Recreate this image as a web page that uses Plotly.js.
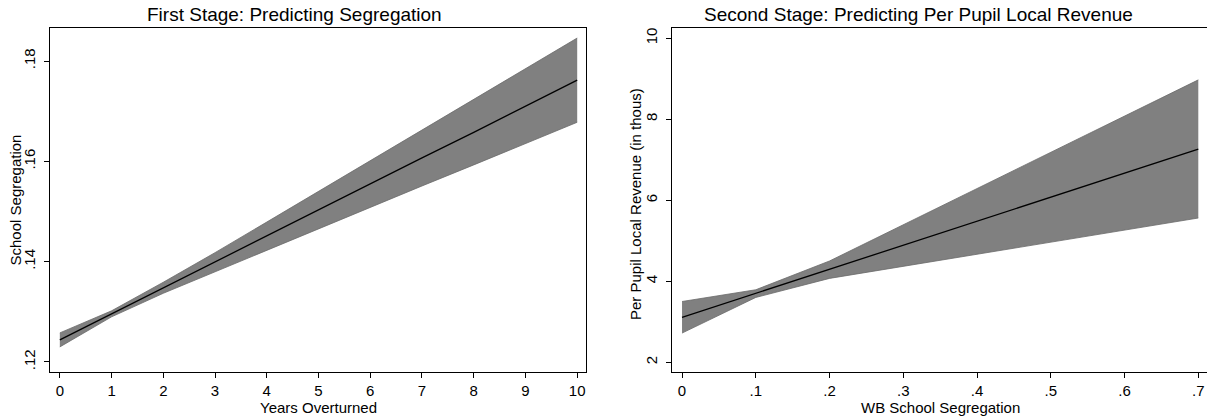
<!DOCTYPE html>
<html>
<head>
<meta charset="utf-8">
<script src="https://cdn.plot.ly/plotly-3.0.1.min.js"></script>
<style>
html,body{margin:0;padding:0;background:#fff;overflow:hidden;}
#chart{width:1207px;height:417px;}
</style>
</head>
<body>
<div id="chart"></div>
<script>
// ---- Left panel: First stage ----
const yearsOverturned = [0, 1, 2, 3, 4, 5, 6, 7, 8, 9, 10];
const segFit   = [0.1244, 0.1296, 0.1348, 0.1399, 0.1451, 0.1503, 0.1555, 0.1607, 0.1658, 0.1710, 0.1762];
const segUpper = [0.1258, 0.1302, 0.1359, 0.1418, 0.1479, 0.1540, 0.1602, 0.1663, 0.1723, 0.1785, 0.1846];
const segLower = [0.1230, 0.1290, 0.1337, 0.1380, 0.1423, 0.1466, 0.1508, 0.1551, 0.1593, 0.1635, 0.1678];
const leftXTicks = [0, 1, 2, 3, 4, 5, 6, 7, 8, 9, 10];
const leftYTicks = [0.12, 0.14, 0.16, 0.18];
const leftYTickText = [".12", ".14", ".16", ".18"];

// ---- Right panel: Second stage ----
const wbSeg     = [0, 0.1, 0.2, 0.3, 0.4, 0.5, 0.6, 0.7];
const revFit    = [3.11, 3.70, 4.30, 4.89, 5.48, 6.08, 6.67, 7.26];
const revUpper  = [3.50, 3.79, 4.50, 5.39, 6.28, 7.18, 8.07, 8.97];
const revLower  = [2.72, 3.60, 4.07, 4.37, 4.67, 4.96, 5.26, 5.56];
const rightXTicks = [0, 0.1, 0.2, 0.3, 0.4, 0.5, 0.6, 0.7];
const rightXTickText = ["0", ".1", ".2", ".3", ".4", ".5", ".6", ".7"];
const rightYTicks = [2, 4, 6, 8, 10];
const rightYTickText = ["2", "4", "6", "8", "10"];

const titles = ["First Stage: Predicting Segregation", "Second Stage: Predicting Per Pupil Local Revenue"];
const xTitles = ["Years Overturned", "WB School Segregation"];
const yTitles = ["School Segregation", "Per Pupil Local Revenue (in thous)"];

(function () {
const W = 1207, H = 417;
const FONT = "Liberation Sans, Arial, Helvetica, sans-serif";
const band = "rgb(128,128,128)";
const bandEdge = "rgb(105,105,105)";

function bandTraces(x, lo, hi, fit, xa, ya) {
  return [
    {x: x, y: lo, xaxis: xa, yaxis: ya, type: "scatter", mode: "lines",
     line: {color: bandEdge, width: 0.8}, hoverinfo: "skip", showlegend: false},
    {x: x, y: hi, xaxis: xa, yaxis: ya, type: "scatter", mode: "lines", fill: "tonexty",
     fillcolor: band, line: {color: bandEdge, width: 0.8}, hoverinfo: "skip", showlegend: false},
    {x: x, y: fit, xaxis: xa, yaxis: ya, type: "scatter", mode: "lines",
     line: {color: "black", width: 1.3}, showlegend: false}
  ];
}

const data = [].concat(
  bandTraces(yearsOverturned, segLower, segUpper, segFit, "x", "y"),
  bandTraces(wbSeg, revLower, revUpper, revFit, "x2", "y2")
);

const plotTop = 28, plotBottom = 372;
const ydom = [1 - plotBottom / H, 1 - plotTop / H];
const tf = {family: FONT, size: 15, color: "black"};

const axBase = {
  showgrid: false, zeroline: false, showline: true, linecolor: "black", linewidth: 1.2,
  ticks: "outside", ticklen: 5, tickwidth: 1, tickcolor: "black",
  tickfont: tf, automargin: false
};

function ann(text, xpx, ypx, size, angle) {
  return {text: text, xref: "paper", yref: "paper", x: xpx / W, y: 1 - ypx / H,
    xanchor: "center", yanchor: "middle", showarrow: false, textangle: angle || 0,
    font: {family: FONT, size: size, color: "black"}};
}

const layout = {
  width: W, height: H,
  margin: {l: 0, r: 0, t: 0, b: 0},
  paper_bgcolor: "white", plot_bgcolor: "white",
  showlegend: false,
  xaxis: Object.assign({}, axBase, {
    domain: [50 / W, 586 / W], anchor: "y", mirror: true,
    range: [-0.19, 10.17], tickvals: leftXTicks
  }),
  yaxis: Object.assign({}, axBase, {
    domain: ydom, anchor: "x", mirror: true, ticklabelstandoff: 3,
    range: [0.118, 0.1866], tickvals: leftYTicks, ticktext: leftYTickText, tickangle: -90
  }),
  xaxis2: Object.assign({}, axBase, {
    domain: [672 / W, 1], anchor: "y2", mirror: true,
    range: [-0.0136, 0.7118], tickvals: rightXTicks, ticktext: rightXTickText
  }),
  yaxis2: Object.assign({}, axBase, {
    domain: ydom, anchor: "x2", mirror: false, ticklabelstandoff: 3,
    range: [1.76, 10.25], tickvals: rightYTicks, ticktext: rightYTickText, tickangle: -90
  }),
  annotations: [
    ann(titles[0], 294, 14, 19),
    ann(titles[1], 918, 14, 19),
    ann(xTitles[0], 318.5, 407, 15),
    ann(xTitles[1], 940, 407, 15),
    ann(yTitles[0], 14.5, 200, 15, -90),
    ann(yTitles[1], 635, 204, 15, -90)
  ]
};

Plotly.newPlot("chart", data, layout, {staticPlot: true, displayModeBar: false});
})();
</script>
</body>
</html>
